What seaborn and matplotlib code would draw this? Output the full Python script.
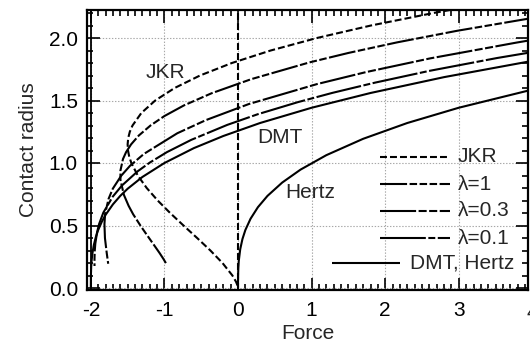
import matplotlib
matplotlib.use("Agg")
import matplotlib.pyplot as plt
import matplotlib.transforms as mtransforms
from matplotlib.ticker import MultipleLocator, FixedLocator, FormatStrFormatter
import seaborn as sns
import pandas as pd

# ---------------- data ----------------
jkr_force = [-0.0069, -0.0273, -0.0765, -0.2111, -0.3755, -0.5557, -0.741, -0.9224,
             -1.0916, -1.2407, -1.3624, -1.4495, -1.4779, -1.495, -1.4999, -1.4919,
             -1.4702, -1.4337, -1.3136, -1.125, -0.8614, -0.5164, -0.0835, 0.4438,
             1.0718, 1.8067, 2.655, 3.124]
jkr_radius = [0.02, 0.05, 0.1, 0.2, 0.3, 0.4, 0.5, 0.6,
              0.7, 0.8, 0.9, 1.0, 1.05, 1.1, 1.15, 1.2,
              1.25, 1.3, 1.4, 1.5, 1.6, 1.7, 1.8, 1.9,
              2.0, 2.1, 2.2, 2.25]

lam1_force = [4.009, 2.980, 2.161, 1.504, 0.972, 0.181, -0.359, -0.734, -0.999, -1.187,
              -1.348, -1.453, -1.521, -1.563, -1.598, -1.597, -1.550, -1.487, -1.425,
              -1.319, -1.239, -1.154, -1.066, -1.013, -0.980]
lam1_radius = [2.161, 2.058, 1.965, 1.881, 1.805, 1.671, 1.558, 1.461, 1.376, 1.301,
               1.220, 1.149, 1.087, 1.032, 0.939, 0.862, 0.744, 0.658, 0.590,
               0.493, 0.425, 0.354, 0.280, 0.232, 0.199]

lam03_force = [4.062, 3.781, 2.611, 1.737, 1.071, 0.148, -0.437, -0.825, -1.278, -1.467,
               -1.586, -1.701, -1.759, -1.806, -1.815, -1.808, -1.784, -1.764]
lam03_radius = [1.991, 1.963, 1.837, 1.727, 1.631, 1.472, 1.343, 1.238, 1.073, 0.978,
                0.899, 0.795, 0.713, 0.594, 0.510, 0.399, 0.280, 0.194]

lam01_force = [4.727, 3.521, 2.591, 1.862, 1.282, 0.814, 0.267, -0.146, -0.636, -0.966,
               -1.197, -1.363, -1.577, -1.702, -1.830, -1.887, -1.915, -1.939, -1.947,
               -1.950, -1.950]
lam01_radius = [1.959, 1.840, 1.736, 1.643, 1.561, 1.487, 1.390, 1.305, 1.185, 1.087,
                1.004, 0.934, 0.820, 0.731, 0.603, 0.513, 0.447, 0.355, 0.295,
                0.236, 0.176]

dmt_force = [-2.0, -1.999, -1.995, -1.99, -1.98, -1.96, -1.93, -1.9, -1.85, -1.8, -1.7,
             -1.6, -1.5, -1.3, -1.0, -0.6, -0.2, 0.3, 1.0, 1.8, 2.8, 4.0]
dmt_radius = [0.0, 0.1, 0.171, 0.215, 0.271, 0.342, 0.412, 0.464, 0.531, 0.585, 0.669,
              0.737, 0.794, 0.888, 1.0, 1.119, 1.216, 1.320, 1.442, 1.560, 1.687, 1.817]

hertz_force = [0.0, 0.0001, 0.001, 0.004, 0.01, 0.03, 0.06, 0.1, 0.17, 0.27, 0.4, 0.6,
               0.85, 1.2, 1.7, 2.3, 3.0, 4.0]
hertz_radius = [0.0, 0.0464, 0.1, 0.1587, 0.2154, 0.3107, 0.3915, 0.4642, 0.554, 0.6463,
                0.7368, 0.8434, 0.9473, 1.0627, 1.1935, 1.32, 1.4422, 1.5874]

marker_lines_x = [-2, 0]          # vertical reference lines
x_tick_values = [-2, -1, 0, 1, 2, 3]
y_tick_values = [0.0, 0.5, 1.0, 1.5, 2.0]
legend_labels = ["JKR", "λ=1", "λ=0.3", "λ=0.1", "DMT, Hertz"]
curve_labels = ["JKR", "DMT", "Hertz"]

# ---------------- styles ----------------
DASH_JKR = (5.0, 2.2)
DASH_L1 = (19.5, 1.8, 5.4, 1.8, 5.4, 1.8, 5.4, 1.8)
DASH_L03 = (26.0, 1.8, 5.8, 1.8, 5.8, 1.8)
DASH_L01 = (33.0, 1.8, 5.0, 1.8)

sns.set_style("ticks")
plt.rcParams["font.family"] = ["Liberation Sans", "DejaVu Sans"]
plt.rcParams["font.size"] = 15
plt.rcParams["axes.unicode_minus"] = False
plt.rcParams["lines.scale_dashes"] = False
plt.rcParams["lines.dash_capstyle"] = "butt"

fig = plt.figure(figsize=(5.3, 3.49), dpi=100)
W, H = 530, 349
ax_left, ax_right, ax_top, ax_bottom = 87, 528, 10, 290
ax = fig.add_axes([ax_left / W, 1 - ax_bottom / H, (ax_right - ax_left) / W,
                   (ax_bottom - ax_top) / H])

LW = 1.5
curves = [
    (jkr_force, jkr_radius, DASH_JKR),
    (lam1_force, lam1_radius, DASH_L1),
    (lam03_force, lam03_radius, DASH_L03),
    (lam01_force, lam01_radius, DASH_L01),
    (dmt_force, dmt_radius, None),
    (hertz_force, hertz_radius, None),
]
for fx, ry, dash in curves:
    df = pd.DataFrame({"Force": fx, "Contact radius": ry})
    sns.lineplot(data=df, x="Force", y="Contact radius", sort=False, estimator=None,
                 color="black", linewidth=LW, ax=ax, zorder=3)
    line = ax.lines[-1]
    if dash is not None:
        line.set_dashes(dash)
    line.set_solid_capstyle("butt")
    line.set_solid_joinstyle("round")

# vertical reference lines
ax.axvline(marker_lines_x[0], color="black", lw=1.3, zorder=3)
ax.axvline(marker_lines_x[1], color="black", lw=LW, dashes=DASH_JKR, zorder=3)

ax.set_xlim(-2.052, 3.94)
ax.set_ylim(-0.016, 2.224)
ax.xaxis.set_major_locator(FixedLocator(x_tick_values))
ax.yaxis.set_major_locator(FixedLocator(y_tick_values))
ax.yaxis.set_major_formatter(FormatStrFormatter("%.1f"))
ax.xaxis.set_minor_locator(MultipleLocator(0.1))
ax.yaxis.set_minor_locator(MultipleLocator(0.1))
ax.grid(True, which="major", color="#a8a8a8", linestyle=(0, (1, 1.2)), linewidth=0.8,
        zorder=0)
ax.tick_params(which="both", direction="in", top=True, right=True, colors="black",
               width=1.2)
ax.tick_params(which="major", length=9)
ax.tick_params(which="minor", length=4.5)
ax.tick_params(axis="x", which="major", pad=8)
ax.tick_params(axis="y", which="major", pad=6.5)
for s in ax.spines.values():
    s.set_linewidth(1.6)
    s.set_color("black")

ax.set_xlabel("Force", labelpad=3)
ax.set_ylabel("Contact radius", labelpad=8)

# partially visible "4" tick label at the right edge
trans = mtransforms.blended_transform_factory(ax.transData, ax.transAxes)
ax.text(4.0, -0.079, "4", transform=trans, ha="center", va="center", clip_on=False)

# curve annotations
ax.text(-0.98, 1.728, curve_labels[0], ha="center", va="center")
ax.text(0.57, 1.208, curve_labels[1], ha="center", va="center")
ax.text(0.98, 0.764, curve_labels[2], ha="center", va="center")

# manual key (samples left of the text)
def fx_(px):
    return (px - ax_left) / (ax_right - ax_left)

def fy_(py):
    return (ax_bottom - py) / (ax_bottom - ax_top)

key_rows = [
    (380, 447, 157, DASH_JKR, 458),
    (380, 450, 184, DASH_L1, 458),
    (380, 450, 211, DASH_L03, 458),
    (380, 450, 238, DASH_L01, 458),
    (332, 400, 263, None, 410),
]
for (x0, x1, yy, dash, tx), lab in zip(key_rows, legend_labels):
    ln, = ax.plot([fx_(x0), fx_(x1)], [fy_(yy), fy_(yy)], transform=ax.transAxes,
                  color="black", lw=LW, solid_capstyle="butt", zorder=4)
    if dash is not None:
        ln.set_dashes(dash)
    ax.text(fx_(tx), fy_(yy), lab, transform=ax.transAxes, ha="left", va="center",
            zorder=4)

fig.savefig("out.png", dpi=100)
